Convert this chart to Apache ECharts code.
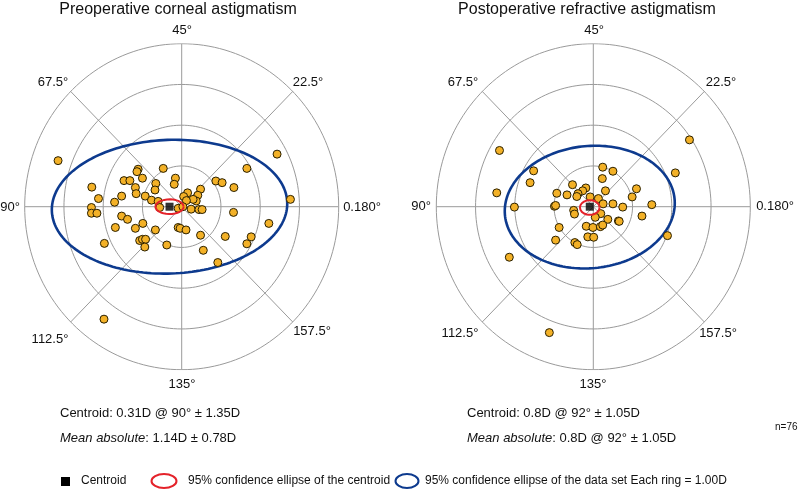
<!DOCTYPE html>
<html><head><meta charset="utf-8">
<script src="https://cdn.jsdelivr.net/npm/echarts@6/dist/echarts.min.js"></script>
<style>html,body{margin:0;padding:0;background:#fff}#c{width:810px;height:491px}</style>
</head><body><div id="c"></div>
<script>
// ---- DATA (double-angle plot, cartesian components in dioptres) ----
const plotTitles = ['Preoperative corneal astigmatism', 'Postoperative refractive astigmatism'];
const angleLabels = ['45°', '67.5°', '22.5°', '90°', '0.180°', '112.5°', '157.5°', '135°'];
const ringValues = [1, 2, 3, 4];
const spokeAnglesDeg = [0, 45, 90, 135];

const preX = [-3.15,2.43,1.66,-0.47,-1.11,-1.14,-1.47,-1.32,-1.00,-0.16,-0.19,-0.66,-0.68,-2.29,-1.18,-1.16,0.87,1.03,1.33,0.48,0.15,0.41,0.37,0.29,0.05,0.12,-1.53,-2.12,-1.71,-0.93,-0.77,-0.60,2.77,-2.30,-2.30,-2.16,-0.56,-0.09,0.03,0.24,0.44,0.52,1.32,-1.53,-1.38,-0.99,-1.69,-1.18,-0.67,-0.09,-0.04,0.11,2.22,0.48,1.11,1.77,-1.97,-1.07,-1.00,-0.92,-0.94,-0.38,0.55,1.66,0.92,-1.98];
const preY = [1.13,1.29,0.94,0.94,0.92,0.86,0.64,0.64,0.70,0.70,0.55,0.57,0.41,0.48,0.47,0.32,0.63,0.59,0.47,0.43,0.34,0.28,0.14,0.18,0.25,0.15,0.26,0.20,0.11,0.26,0.16,0.13,0.18,-0.02,-0.16,-0.16,-0.02,-0.04,0,-0.06,-0.07,-0.07,-0.14,-0.23,-0.31,-0.41,-0.51,-0.53,-0.57,-0.51,-0.53,-0.57,-0.41,-0.70,-0.73,-0.74,-0.90,-0.83,-0.80,-0.80,-0.99,-0.94,-1.07,-0.91,-1.37,-2.76];

const postX = [2.45,-2.39,-1.52,-1.61,-2.46,0.24,0.50,0.23,2.09,-0.53,-0.19,-0.27,-0.39,-0.42,-0.67,-0.93,0.31,1.10,0.99,0.13,-0.08,0.25,0.50,0.75,1.49,-2.01,-0.99,-0.96,-0.50,-0.48,0.19,0.05,0.37,0.64,0.66,1.24,-0.87,-0.18,-0.01,0.18,0.24,-0.96,-0.14,0.01,-0.47,-0.41,1.89,-2.14,-1.12];
const postY = [1.64,1.38,0.88,0.59,0.34,0.97,0.87,0.69,0.83,0.54,0.46,0.39,0.32,0.25,0.29,0.33,0.39,0.44,0.24,0.20,0.24,0.07,0.07,-0.01,0.05,-0.01,0.01,0.03,-0.09,-0.18,-0.17,-0.26,-0.31,-0.35,-0.36,-0.23,-0.51,-0.48,-0.51,-0.49,-0.45,-0.82,-0.74,-0.75,-0.88,-0.93,-0.71,-1.24,-3.09];

const preCentroid = [-0.31, 0];
const postCentroid = [-0.09, 0];
// [cx, cy, semiX, semiY, rotationDeg]
const preCentroidEllipse = [-0.31, 0, 0.36, 0.18, 0];
const preDataEllipse = [-0.31, 0, 3.0, 1.64, 2];
const postCentroidEllipse = [-0.09, -0.02, 0.25, 0.18, 0];
const postDataEllipse = [-0.09, -0.01, 2.17, 1.5, 5];

const statLines = [
  ['Centroid: 0.31D @ 90° ± 1.35D', '{i|Mean absolute}: 1.14D ± 0.78D'],
  ['Centroid: 0.8D @ 92° ± 1.05D', '{i|Mean absolute}: 0.8D @ 92° ± 1.05D']
];
const sampleSizeText = 'n=76';
const legendTexts = ['Centroid', '95% confidence ellipse of the centroid', '95% confidence ellipse of the data set Each ring = 1.00D'];

// ---- helpers ----
function circlePts(r) {
  const p = [];
  for (let i = 0; i <= 360; i += 2) { const t = i * Math.PI / 180; p.push([r * Math.cos(t), r * Math.sin(t)]); }
  return p;
}
function ellipsePts(e) {
  const [cx, cy, a, b, rot] = e; const ro = rot * Math.PI / 180; const p = [];
  for (let i = 0; i <= 360; i += 2) {
    const t = i * Math.PI / 180; const x = a * Math.cos(t), y = b * Math.sin(t);
    p.push([cx + x * Math.cos(ro) - y * Math.sin(ro), cy + x * Math.sin(ro) + y * Math.cos(ro)]);
  }
  return p;
}
const FONT = "'Liberation Sans', Arial, Helvetica, sans-serif";
const GRID = '#9a9a9a';
const series = [];
function lineS(gi, data, color, width, z) {
  series.push({ type: 'line', xAxisIndex: gi, yAxisIndex: gi, data: data, showSymbol: false, symbol: 'none',
    silent: true, animation: false, z: z, lineStyle: { color: color, width: width } });
}
const plots = [
  { xs: preX, ys: preY, c: preCentroid, ce: preCentroidEllipse, de: preDataEllipse },
  { xs: postX, ys: postY, c: postCentroid, ce: postCentroidEllipse, de: postDataEllipse }
];
plots.forEach((p, gi) => {
  ringValues.forEach(r => lineS(gi, circlePts(r), GRID, 1, 1));
  const R = ringValues[ringValues.length - 1];
  spokeAnglesDeg.forEach(a => {
    const t = a * Math.PI / 180;
    lineS(gi, [[-R * Math.cos(t), -R * Math.sin(t)], [R * Math.cos(t), R * Math.sin(t)]], GRID, 1, 1);
  });
  lineS(gi, ellipsePts(p.de), '#0d3a8e', 2.6, 2);
  series.push({ type: 'scatter', xAxisIndex: gi, yAxisIndex: gi, z: 3, animation: false,
    data: p.xs.map((x, i) => [x, p.ys[i]]), symbolSize: 8,
    itemStyle: { color: '#f3b127', borderColor: '#2a2000', borderWidth: 1, opacity: 1 } });
  lineS(gi, ellipsePts(p.ce), '#e4222a', 2, 4);
  series.push({ type: 'scatter', xAxisIndex: gi, yAxisIndex: gi, z: 5, animation: false,
    data: [p.c], symbol: 'rect', symbolSize: 8, itemStyle: { color: '#000' } });
});

// ---- text graphics ----
const g = [];
function txt(x, y, s, size, align, extra) {
  g.push({ type: 'text', x: x, y: y, silent: true,
    style: Object.assign({ text: s, fontSize: size, fontFamily: FONT, fill: '#111', align: align || 'center', verticalAlign: 'middle' }, extra || {}) });
}
txt(178, 10, plotTitles[0], 16);
txt(587, 10, plotTitles[1], 16);
const labelPos = [
  [[182, 30], [53, 82], [308, 82], [10, 207], [362, 207], [50, 339], [312, 331], [182, 384]],
  [[594, 30], [463, 82], [721, 82], [421, 206], [775, 206], [460, 333], [718, 333], [593, 384]]
];
labelPos.forEach(lp => lp.forEach((pt, i) => txt(pt[0], pt[1], angleLabels[i], 13)));
const statX = [60, 467];
statLines.forEach((ls, k) => {
  txt(statX[k], 413, ls[0], 13, 'left');
  txt(statX[k], 438, ls[1], 13, 'left', { rich: { i: { fontStyle: 'italic', fontSize: 13, fontFamily: FONT, fill: '#111' } } });
});
txt(775, 427, sampleSizeText, 10, 'left');
g.push({ type: 'rect', shape: { x: 61, y: 477, width: 9, height: 9 }, style: { fill: '#000' }, silent: true });
txt(81, 481, legendTexts[0], 12, 'left');
g.push({ type: 'ellipse', shape: { cx: 164, cy: 481, rx: 12.5, ry: 7 }, style: { fill: 'none', stroke: '#e4222a', lineWidth: 2 }, silent: true });
txt(188, 481, legendTexts[1], 12, 'left');
g.push({ type: 'ellipse', shape: { cx: 407, cy: 481, rx: 11.5, ry: 7 }, style: { fill: 'none', stroke: '#0d3a8e', lineWidth: 2 }, silent: true });
txt(425, 481, legendTexts[2], 12, 'left');

const axisOff = { type: 'value', min: -4, max: 4, show: false };
const chart = echarts.init(document.getElementById('c'), null, { renderer: 'canvas' });
chart.setOption({
  animation: false,
  backgroundColor: '#fff',
  grid: [
    { left: 24.7, top: 43.7, width: 314, height: 326 },
    { left: 436.3, top: 43.7, width: 314, height: 326 }
  ],
  xAxis: [Object.assign({ gridIndex: 0 }, axisOff), Object.assign({ gridIndex: 1 }, axisOff)],
  yAxis: [Object.assign({ gridIndex: 0 }, axisOff), Object.assign({ gridIndex: 1 }, axisOff)],
  series: series,
  graphic: g
});
</script></body></html>
